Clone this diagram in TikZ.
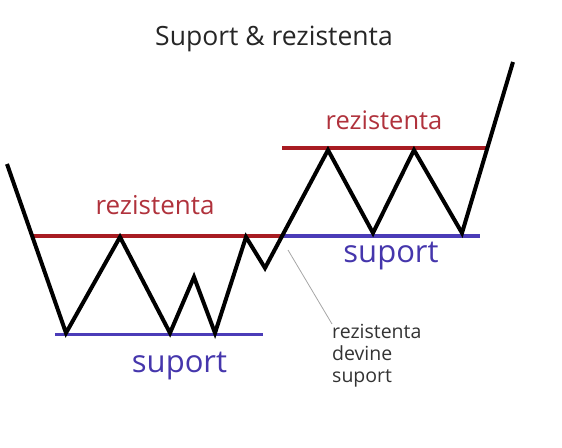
\documentclass[tikz,border=0pt]{standalone}
\usepackage{fontspec}
\setmainfont{Open Sans}
\usepackage{tikz}
\usetikzlibrary{positioning}
\definecolor{ResRed}{HTML}{A81C22}
\definecolor{ResText}{HTML}{B0323C}
\definecolor{SupBlue}{HTML}{4B3CB8}
\definecolor{SupText}{HTML}{4536AC}

\begin{document}
\begin{tikzpicture}[x=1pt, y=-1pt,
    price/.style={line width=4pt, black, line join=miter},
    resline/.style={line width=3.5pt, ResRed},
    supline/.style={line width=3.5pt, SupBlue},
    reslabel/.style={anchor=base, text=ResText},
    suplabel/.style={anchor=base, text=SupText, font=\fontsize{31}{31}\selectfont},
    leader/.style={gray!70, line width=0.8pt}
]
    \useasboundingbox (0,0) rectangle (562,447);
    \node[anchor=base, text=black!85, font=\fontsize{26.5}{30}\selectfont] (title) at (274,45) {Suport \& rezistenta};
    % support and resistance levels
    \draw[resline] (33,236) -- (283,236);
    \draw[resline] (282,148) -- (486,148);
    \draw[supline] (55,334.5) -- (263,334.5);
    \draw[supline] (282,236) -- (480,236);
    % price
    \draw[price] (7,164) -- (66,333) -- (120,237) -- (170,333) -- (194,277)
        -- (215,333) -- (246,237) -- (265,268) -- (328,150) -- (373,233)
        -- (414,150) -- (462,233) -- (513,62);
    \node[reslabel, font=\fontsize{26}{26}\selectfont] (res1) at (155,214) {rezistenta};
    \node[reslabel, font=\fontsize{25.5}{26}\selectfont] (res2) at (384,129) {rezistenta};
    \node[suplabel] (sup1) at (179.5,372) {suport};
    \node[suplabel] (sup2) at (391,262) {suport};
    % flip note
    \coordinate (flip) at (288,250);
    \node[anchor=north west, inner sep=0pt, align=left, text=black!80,
          font=\fontsize{19.5}{22}\selectfont] (note) at (332,324) {rezistenta\\devine\\suport};
    \draw[leader] (flip) -- (note.north west);
\end{tikzpicture}
\end{document}
